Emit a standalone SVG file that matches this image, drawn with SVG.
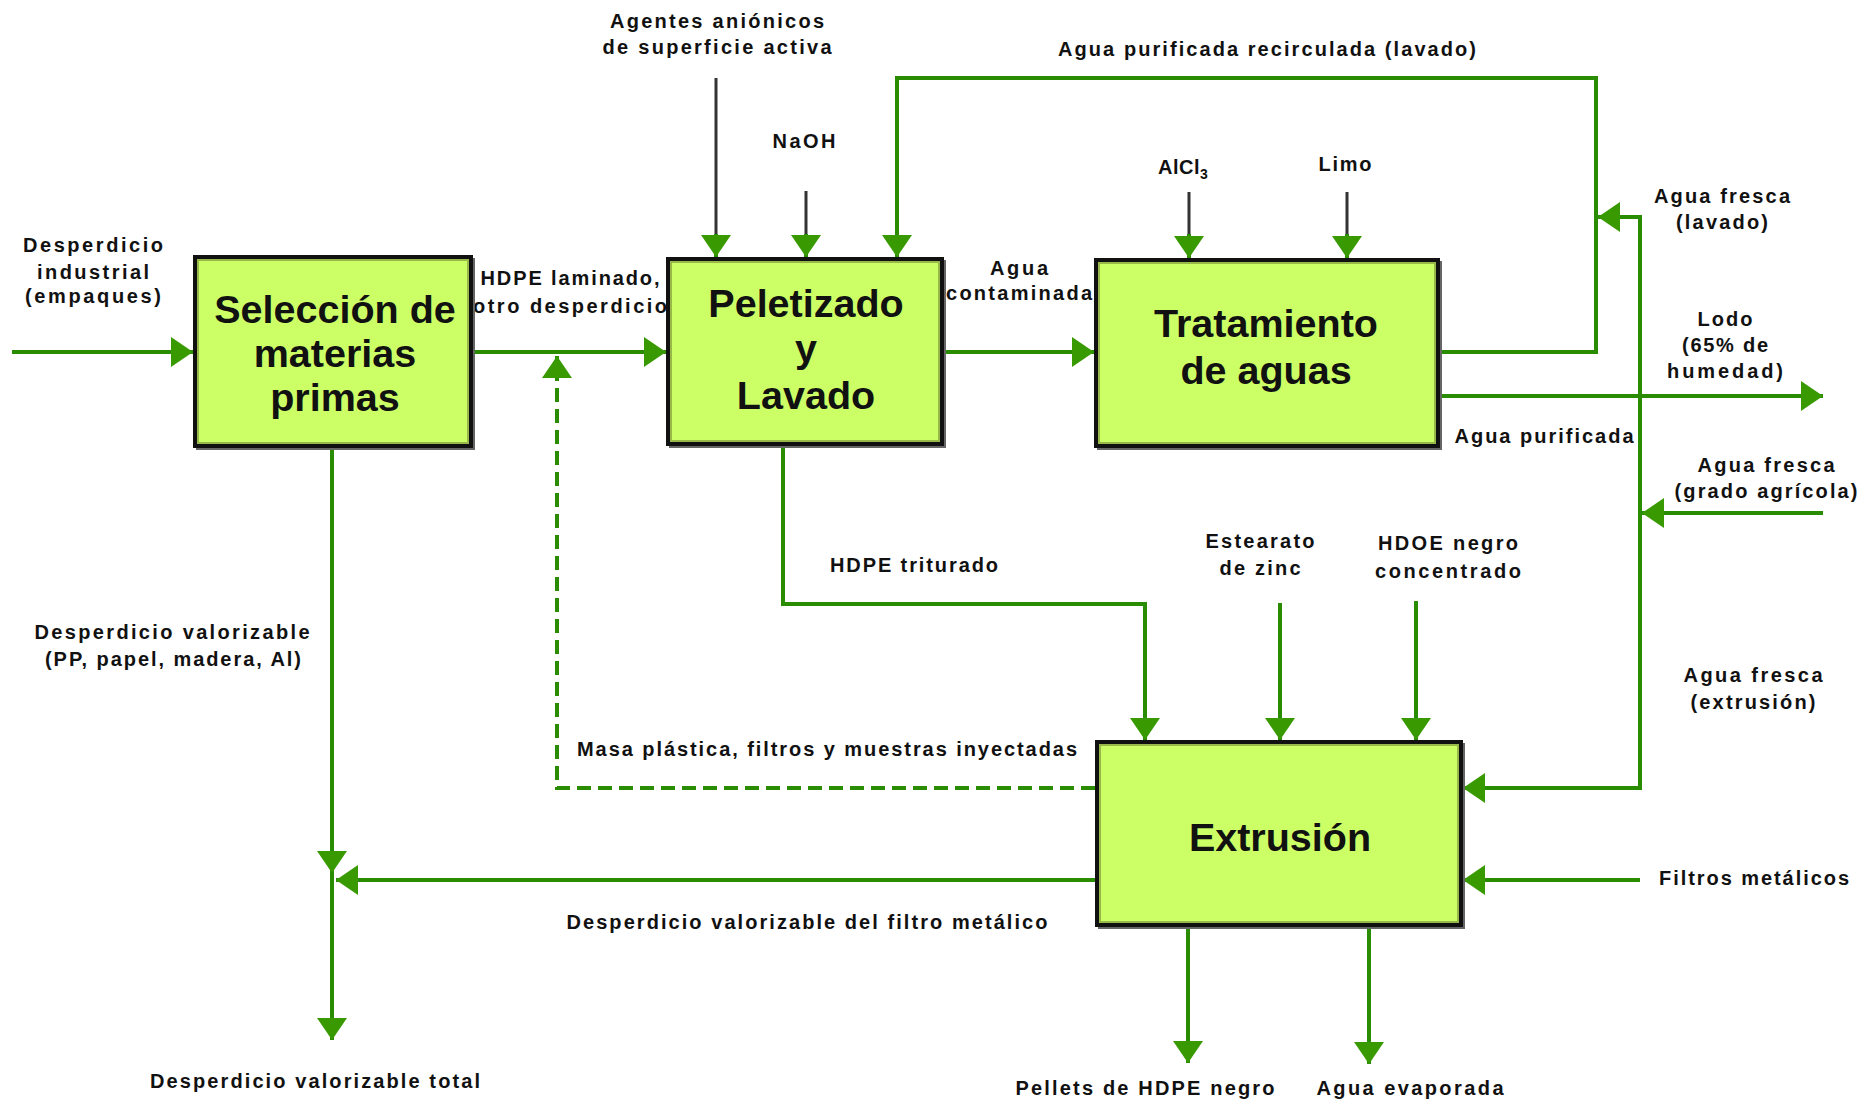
<svg xmlns="http://www.w3.org/2000/svg" width="1872" height="1102" viewBox="0 0 1872 1102">
<style>
.ln{fill:none;stroke:#2a8c00;stroke-width:4}
.dk{fill:none;stroke:#333;stroke-width:3}
.ds{fill:none;stroke:#2a8c00;stroke-width:4;stroke-dasharray:14 7}
.lb{font-family:"Liberation Sans",Arial,sans-serif;font-weight:bold;font-size:20px;fill:#111;text-anchor:middle}
.bx{fill:#ccff66;stroke:#111;stroke-width:4}
.in{fill:none;stroke:#99b84a;stroke-width:2}
.sh{fill:none;stroke:#666;stroke-width:2}
.bt{font-family:"Liberation Sans",Arial,sans-serif;font-weight:bold;font-size:39.5px;fill:#111;text-anchor:middle}
</style>
<defs>
<marker id="ah" markerUnits="userSpaceOnUse" markerWidth="22" markerHeight="30" refX="22" refY="15" orient="auto">
<path d="M0,0 L22,15 L0,30 z" fill="#389a00"/>
</marker>
</defs>
<rect width="1872" height="1102" fill="#fff"/>
<g id="connectors">
<path class="ln" d="M12 352 H193" marker-end="url(#ah)"/>
<path class="ln" d="M473 352 H666" marker-end="url(#ah)"/>
<path class="ln" d="M944 352 H1094" marker-end="url(#ah)"/>
<path class="dk" d="M716 78 V236"/>
<path class="ln" d="M716 234 V257" stroke="none" marker-end="url(#ah)"/>
<path class="dk" d="M806 191 V236"/>
<path class="ln" d="M806 234 V257" stroke="none" marker-end="url(#ah)"/>
<path class="ln" d="M1440 352 H1596 V78 H897 V257" marker-end="url(#ah)"/>
<path class="dk" d="M1189 192 V236"/>
<path class="ln" d="M1189 234 V258" stroke="none" marker-end="url(#ah)"/>
<path class="dk" d="M1347 192 V236"/>
<path class="ln" d="M1347 234 V258" stroke="none" marker-end="url(#ah)"/>
<path class="ln" d="M1640 217 H1598" marker-end="url(#ah)"/>
<path class="ln" d="M1640 215 V788 H1463" marker-end="url(#ah)"/>
<path class="ln" d="M1823 513 H1642" marker-end="url(#ah)"/>
<path class="ln" d="M1440 396 H1823" marker-end="url(#ah)"/>
<path class="ln" d="M783 445 V604 H1145 V740" marker-end="url(#ah)"/>
<path class="ln" d="M1280 603 V740" marker-end="url(#ah)"/>
<path class="ln" d="M1416 601 V740" marker-end="url(#ah)"/>
<path class="ln" d="M1640 880 H1463" marker-end="url(#ah)"/>
<path class="ln" d="M1095 880 H336" marker-end="url(#ah)"/>
<path class="ln" d="M332 448 V873" marker-end="url(#ah)"/>
<path class="ln" d="M332 873 V1040" marker-end="url(#ah)"/>
<path class="ln" d="M1188 926 V1063" marker-end="url(#ah)"/>
<path class="ln" d="M1369 926 V1064" marker-end="url(#ah)"/>
<path class="ds" d="M1095 788 H557 V356" marker-end="url(#ah)"/>
<text class="lb" x="717" y="28" textLength="214" lengthAdjust="spacing">Agentes aniónicos</text>
<text class="lb" x="717" y="54" textLength="229" lengthAdjust="spacing">de superficie activa</text>
<text class="lb" x="804" y="148" textLength="63" lengthAdjust="spacing">NaOH</text>
<text class="lb" x="1267" y="56" textLength="418" lengthAdjust="spacing">Agua purificada recirculada (lavado)</text>
<text class="lb" x="1158" y="174" style="text-anchor:start" letter-spacing="0.5">AlCl<tspan dy="5" font-size="14">3</tspan></text>
<text class="lb" x="1345" y="171" textLength="53" lengthAdjust="spacing">Limo</text>
<text class="lb" x="1722" y="203" textLength="136" lengthAdjust="spacing">Agua fresca</text>
<text class="lb" x="1722" y="229" textLength="92" lengthAdjust="spacing">(lavado)</text>
<text class="lb" x="93" y="252" textLength="140" lengthAdjust="spacing">Desperdicio</text>
<text class="lb" x="93" y="279" textLength="112" lengthAdjust="spacing">industrial</text>
<text class="lb" x="93" y="303" textLength="136" lengthAdjust="spacing">(empaques)</text>
<text class="lb" x="570" y="285" textLength="179" lengthAdjust="spacing">HDPE laminado,</text>
<text class="lb" x="570" y="313" textLength="194" lengthAdjust="spacing">otro desperdicio</text>
<text class="lb" x="1019" y="275" textLength="58" lengthAdjust="spacing">Agua</text>
<text class="lb" x="1019" y="300" textLength="146" lengthAdjust="spacing">contaminada</text>
<text class="lb" x="1725" y="326" textLength="55" lengthAdjust="spacing">Lodo</text>
<text class="lb" x="1725" y="352" textLength="86" lengthAdjust="spacing">(65% de</text>
<text class="lb" x="1725" y="378" textLength="116" lengthAdjust="spacing">humedad)</text>
<text class="lb" x="1544" y="443" textLength="179" lengthAdjust="spacing">Agua purificada</text>
<text class="lb" x="1766" y="472" textLength="137" lengthAdjust="spacing">Agua fresca</text>
<text class="lb" x="1766" y="498" textLength="183" lengthAdjust="spacing">(grado agrícola)</text>
<text class="lb" x="914" y="572" textLength="168" lengthAdjust="spacing">HDPE triturado</text>
<text class="lb" x="1260" y="548" textLength="109" lengthAdjust="spacing">Estearato</text>
<text class="lb" x="1260" y="575" textLength="81" lengthAdjust="spacing">de zinc</text>
<text class="lb" x="1448" y="550" textLength="140" lengthAdjust="spacing">HDOE negro</text>
<text class="lb" x="1448" y="578" textLength="146" lengthAdjust="spacing">concentrado</text>
<text class="lb" x="172" y="639" textLength="275" lengthAdjust="spacing">Desperdicio valorizable</text>
<text class="lb" x="173" y="666" textLength="256" lengthAdjust="spacing">(PP, papel, madera, Al)</text>
<text class="lb" x="1753" y="682" textLength="139" lengthAdjust="spacing">Agua fresca</text>
<text class="lb" x="1753" y="709" textLength="125" lengthAdjust="spacing">(extrusión)</text>
<text class="lb" x="827" y="756" textLength="500" lengthAdjust="spacing">Masa plástica, filtros y muestras inyectadas</text>
<text class="lb" x="1754" y="885" textLength="190" lengthAdjust="spacing">Filtros metálicos</text>
<text class="lb" x="807" y="929" textLength="481" lengthAdjust="spacing">Desperdicio valorizable del filtro metálico</text>
<text class="lb" x="315" y="1088" textLength="330" lengthAdjust="spacing">Desperdicio valorizable total</text>
<text class="lb" x="1145" y="1095" textLength="259" lengthAdjust="spacing">Pellets de HDPE negro</text>
<text class="lb" x="1410" y="1095" textLength="187" lengthAdjust="spacing">Agua evaporada</text>
</g>
<g id="node-seleccion">
<path class="sh" d="M474 258 V449 H196"/>
<rect class="bx" x="195" y="257" width="276" height="189"/>
<rect class="in" x="198" y="260" width="270" height="183"/>
<text class="bt" x="335" y="323">Selección de</text>
<text class="bt" x="335" y="367">materias</text>
<text class="bt" x="335" y="411">primas</text>
</g>
<g id="node-peletizado">
<path class="sh" d="M945 260 V447 H669"/>
<rect class="bx" x="668" y="259" width="274" height="185"/>
<rect class="in" x="671" y="262" width="268" height="179"/>
<text class="bt" x="806" y="317">Peletizado</text>
<text class="bt" x="806" y="362">y</text>
<text class="bt" x="806" y="409">Lavado</text>
</g>
<g id="node-tratamiento">
<path class="sh" d="M1441 261 V449 H1097"/>
<rect class="bx" x="1096" y="260" width="342" height="186"/>
<rect class="in" x="1099" y="263" width="336" height="180"/>
<text class="bt" x="1266" y="337">Tratamiento</text>
<text class="bt" x="1266" y="384">de aguas</text>
</g>
<g id="node-extrusion">
<path class="sh" d="M1464 743 V928 H1098"/>
<rect class="bx" x="1097" y="742" width="364" height="183"/>
<rect class="in" x="1100" y="745" width="358" height="177"/>
<text class="bt" x="1280" y="851">Extrusión</text>
</g>
</svg>
